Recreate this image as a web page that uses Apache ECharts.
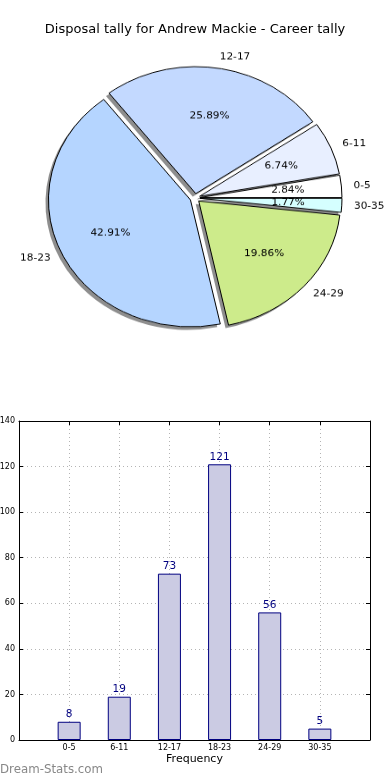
<!DOCTYPE html>
<html>
<head>
<meta charset="utf-8">
<script src="https://cdn.jsdelivr.net/npm/echarts@6/dist/echarts.min.js"></script>
<style>
html,body{margin:0;padding:0;background:#fff;overflow:hidden;width:390px;height:780px;}
#main{position:absolute;left:0;top:0;width:390px;height:780px;}
#pie{position:absolute;left:-65px;top:0;width:520px;height:400px;transform-origin:260px 198px;transform:scaleY(0.894);}
</style>
</head>
<body>
<div id="main"></div>
<div id="pie"></div>
<script>
// ---- data ----
const titleText = 'Disposal tally for Andrew Mackie - Career tally';
const categories = ['0-5', '6-11', '12-17', '18-23', '24-29', '30-35'];
const values = [8, 19, 73, 121, 56, 5];
const sliceColors = ['#ffffff', '#e8efff', '#c3d9ff', '#b5d5ff', '#cdeb8b', '#d5ffff'];
const yTicks = [0, 20, 40, 60, 80, 100, 120, 140];
const xAxisName = 'Frequency';
const watermark = 'Dream-Stats.com';

const FONT = 'DejaVu Sans';
const total = values.reduce((a, b) => a + b, 0);

const axisLineStyle = {show: true, onZero: false, lineStyle: {color: '#000', width: 1}};
const tickStyle = {show: true, inside: true, length: 4, lineStyle: {color: '#000'}};
const gridLineStyle = {show: true, lineStyle: {type: [1, 3], color: '#b4b4b4', width: 1}};

// ---- main chart: title, bar chart, watermark ----
const main = echarts.init(document.getElementById('main'), null, {renderer: 'canvas'});
main.setOption({
  animation: false,
  backgroundColor: '#ffffff',
  title: {
    text: titleText, left: 'center', top: 23, padding: 0,
    textStyle: {fontFamily: FONT, fontSize: 13, fontWeight: 'normal', color: '#000'}
  },
  grid: {left: 19, right: 20, top: 421, bottom: 40, containLabel: false, outerBoundsMode: 'none'},
  xAxis: [{
    type: 'value', min: -1, max: 6, interval: 1, position: 'bottom',
    axisLine: axisLineStyle,
    axisTick: tickStyle,
    axisLabel: {fontFamily: FONT, fontSize: 8, color: '#000', margin: 4,
      formatter: v => (categories[v] !== undefined ? categories[v] : '')},
    splitLine: gridLineStyle,
    name: xAxisName, nameLocation: 'middle', nameGap: 14,
    nameTextStyle: {fontFamily: FONT, fontSize: 11, color: '#000'}
  }, {
    type: 'value', min: -1, max: 6, interval: 1, position: 'top',
    axisLine: axisLineStyle,
    axisTick: tickStyle,
    axisLabel: {show: false},
    splitLine: {show: false}
  }],
  yAxis: [{
    type: 'value', min: yTicks[0], max: yTicks[yTicks.length - 1], interval: yTicks[1] - yTicks[0],
    position: 'left',
    axisLine: axisLineStyle,
    axisTick: tickStyle,
    axisLabel: {fontFamily: FONT, fontSize: 8, color: '#000', margin: 4},
    splitLine: gridLineStyle
  }, {
    type: 'value', min: yTicks[0], max: yTicks[yTicks.length - 1], interval: yTicks[1] - yTicks[0],
    position: 'right',
    axisLine: axisLineStyle,
    axisTick: tickStyle,
    axisLabel: {show: false},
    splitLine: {show: false}
  }],
  series: [{
    type: 'bar',
    xAxisIndex: 0, yAxisIndex: 0,
    data: categories.map((c, i) => [i, values[i]]),
    barWidth: 23,
    itemStyle: {color: '#cbcbe3', borderColor: '#000080', borderWidth: 1},
    label: {show: true, position: 'top', distance: 2, color: '#000080',
      fontFamily: FONT, fontSize: 10.5, formatter: p => String(p.value[1])},
    emphasis: {disabled: true},
    silent: true
  }],
  graphic: [{
    type: 'text', left: 0, top: 764,
    style: {text: watermark, fontFamily: FONT, fontSize: 11.8, fill: '#888888', fontWeight: 'normal'}
  }]
});

// ---- pie chart (drawn in a vertically scaled layer to get the elliptical pie) ----
const pie = echarts.init(document.getElementById('pie'), null, {renderer: 'canvas'});
const CX = 260, CY = 198, R = 142, OFF = 5;
const pieData = categories.map((c, i) => ({name: c, value: values[i], selected: true,
  itemStyle: {color: sliceColors[i]}}));
pie.setOption({
  animation: false,
  backgroundColor: 'transparent',
  series: [{
    // shadow
    type: 'pie', center: [CX - 3, CY + 3.4], radius: R,
    startAngle: 0, clockwise: false,
    selectedMode: 'multiple', selectedOffset: OFF,
    avoidLabelOverlap: false, silent: true,
    label: {show: false}, labelLine: {show: false},
    itemStyle: {color: 'rgba(30,30,30,0.5)', borderWidth: 0},
    emphasis: {disabled: true},
    select: {itemStyle: {color: 'rgba(30,30,30,0.5)'}},
    data: categories.map((c, i) => ({name: c, value: values[i], selected: true}))
  }, {
    // main slices with category labels
    type: 'pie', center: [CX, CY], radius: R,
    startAngle: 0, clockwise: false,
    selectedMode: 'multiple', selectedOffset: OFF,
    avoidLabelOverlap: false, silent: true,
    itemStyle: {borderColor: '#000', borderWidth: 1},
    label: {show: true, position: 'outside', formatter: '{b}', fontFamily: FONT, fontSize: 10.5,
      color: '#000', distanceToLabelLine: 0, alignTo: 'none'},
    labelLine: {show: false, length: R * 0.1 - 2, length2: 0},
    emphasis: {disabled: true},
    data: pieData
  }, {
    // percentage labels at 0.6 R
    type: 'pie', center: [CX, CY], radius: R * 1.2,
    startAngle: 0, clockwise: false,
    selectedMode: 'multiple', selectedOffset: OFF,
    avoidLabelOverlap: false, silent: true,
    itemStyle: {color: 'rgba(0,0,0,0)', borderWidth: 0},
    select: {itemStyle: {color: 'rgba(0,0,0,0)'}},
    label: {show: true, position: 'inside', fontFamily: FONT, fontSize: 10.5, color: '#000',
      formatter: p => (p.value / total * 100).toFixed(2) + '%'},
    labelLine: {show: false},
    emphasis: {disabled: true},
    data: categories.map((c, i) => ({name: c, value: values[i], selected: true}))
  }]
});
</script>
</body>
</html>
